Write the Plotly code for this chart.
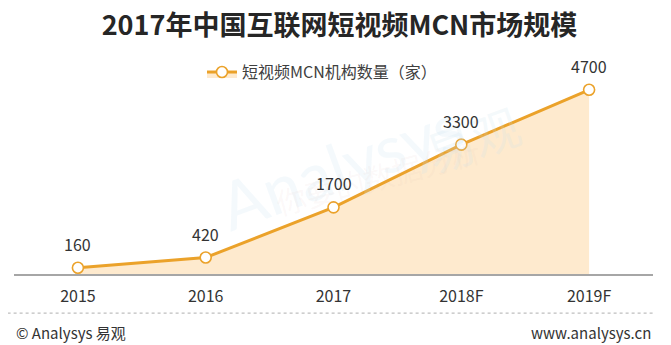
import plotly.graph_objs as go

years = ["2015", "2016", "2017", "2018F", "2019F"]
mcn_count = [160, 420, 1700, 3300, 4700]
series_name = "短视频MCN机构数量（家）"
title = "2017年中国互联网短视频MCN市场规模"

line_color = "#eba22a"
font_cn = "Noto Sans CJK SC"

trace = go.Scatter(
    x = years,
    y = mcn_count,
    name = series_name,
    mode = "lines+markers",
    line = dict(color = line_color, width = 3),
    marker = dict(size = 11, color = "white", line = dict(color = line_color, width = 1.6)),
    fill = "tozeroy",
    fillcolor = "rgba(253, 222, 180, 0.65)",
    cliponaxis = False,
)

# value labels sit ~24px above each point (category index used for x,
# since labels like "2017" would otherwise be read as numbers)
value_labels = [
    dict(x = i, y = v, xref = "x", yref = "y", text = str(v), showarrow = False,
         yshift = 24, yanchor = "middle",
         font = dict(size = 16, color = "#333333", family = font_cn))
    for i, v in enumerate(mcn_count)
]

# page body has an 8px margin, so the figure is 663x337 to fill the window;
# plot area is 196 px tall (337 - 70 - 71), footer items placed relative to it
layout = go.Layout(
    width = 663, height = 337,
    margin = dict(l = 6, r = 18, t = 70, b = 71, autoexpand = False),
    paper_bgcolor = "white",
    plot_bgcolor = "white",
    showlegend = True,
    legend = dict(orientation = "h", x = 0.482, xanchor = "center", y = 1.03, yanchor = "middle",
                  font = dict(size = 16, color = "#404040", family = font_cn),
                  bgcolor = "rgba(0,0,0,0)"),
    title = dict(text = "<b>" + title + "</b>", x = 0.5, xanchor = "center", y = 0.948, yanchor = "middle",
                 font = dict(size = 27, color = "#262626", family = font_cn)),
    xaxis = dict(type = "category", range = [-0.5, 4.5], showgrid = False, zeroline = False,
                 showline = True, linecolor = "#a6a6a6", linewidth = 1.5,
                 ticks = "", ticklabelstandoff = 7,
                 tickfont = dict(size = 16, color = "#333333", family = font_cn),
                 fixedrange = True),
    yaxis = dict(range = [0, 5000], visible = False, fixedrange = True),
    shapes = [
        dict(type = "line", xref = "paper", yref = "paper", x0 = -0.01, x1 = 1.0, y0 = -0.2, y1 = -0.2,
             line = dict(color = "#bfbfbf", width = 1.2, dash = "dot")),
    ],
    annotations = [
        dict(text = "Analysys", xref = "paper", yref = "paper", x = 0.3, y = 0.56, showarrow = False,
             textangle = -20, font = dict(size = 66, color = "rgba(200, 225, 238, 0.2)", family = "Lato")),
        dict(text = "易观", xref = "paper", yref = "paper", x = 0.81, y = 0.96, showarrow = False,
             textangle = -20, font = dict(size = 48, color = "rgba(200, 225, 238, 0.2)", family = font_cn)),
        dict(text = "你要的数据分析", xref = "paper", yref = "paper", x = 0.57, y = 0.5, showarrow = False,
             textangle = -15, font = dict(size = 30, color = "rgba(220, 170, 170, 0.08)", family = font_cn)),
        dict(text = "© Analysys 易观", xref = "paper", yref = "paper", x = 0.0, xanchor = "left",
             y = -0.3, yanchor = "middle", showarrow = False,
             font = dict(size = 15, color = "#333333", family = font_cn)),
        dict(text = "www.analysys.cn", xref = "paper", yref = "paper", x = 1.0, xanchor = "right",
             y = -0.3, yanchor = "middle", showarrow = False,
             font = dict(size = 15, color = "#333333", family = font_cn)),
    ] + value_labels,
)

fig = go.Figure(data = [trace], layout = layout)
fig.write_html("out.html")
